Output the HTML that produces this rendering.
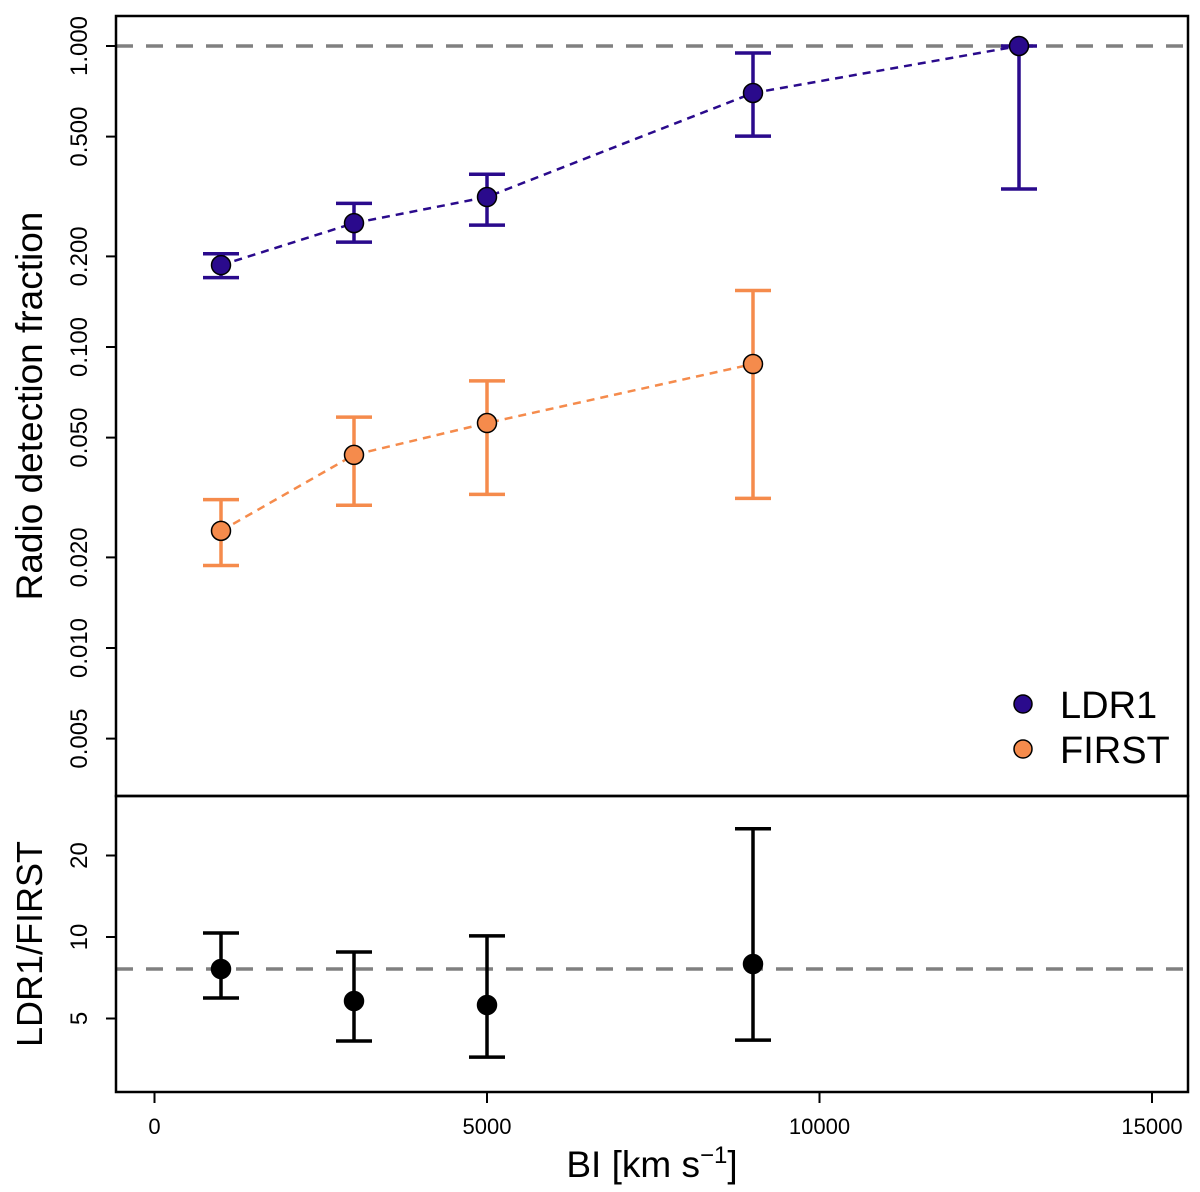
<!DOCTYPE html>
<html><head><meta charset="utf-8"><style>
html,body{margin:0;padding:0;background:#fff}
svg{display:block;font-family:"Liberation Sans",sans-serif}
</style></head><body>
<svg id="chart" width="1200" height="1192" xmlns="http://www.w3.org/2000/svg"></svg>
<script>
const categories=[1000,3000,5000,9000,13000];
const ldrVal=[0.187,0.258,0.315,0.698,1.0];
const ldrHi=[0.204,0.30,0.375,0.948,1.0];
const ldrLo=[0.17,0.223,0.254,0.502,0.335];
const firstCats=[1000,3000,5000,9000];
const firstVal=[0.0245,0.0438,0.0559,0.0878];
const firstHi=[0.0311,0.0585,0.0772,0.154];
const firstLo=[0.0188,0.0298,0.0324,0.0314];
const ratioVal=[7.62,5.8,5.61,7.95];
const ratioHi=[10.35,8.8,10.1,25.1];
const ratioLo=[5.95,4.13,3.6,4.16];
const ratioRef=7.62;
const xTicks=[0,5000,10000,15000];
const topTicks=[1,0.5,0.2,0.1,0.05,0.02,0.01,0.005];
const topTickLabels=["1.000","0.500","0.200","0.100","0.050","0.020","0.010","0.005"];
const botTicks=[20,10,5];
const botTickLabels=["20","10","5"];

const svg=document.getElementById('chart');
const NS='http://www.w3.org/2000/svg';
function mk(tag,attrs,name,parent){const e=document.createElementNS(NS,tag);for(const k in attrs)e.setAttribute(k,attrs[k]);


(parent||svg).appendChild(e);return e;}
const X=v=>154.5+v*(332.5/5000);
const YT=v=>46-Math.log10(v)*301;
const YB=v=>937-Math.log2(v/10)*81.5;
const L=116,R=1188,T=16,M=796,B=1092;

mk('line',{x1:L,x2:R,y1:YT(1),y2:YT(1),stroke:'#808080','stroke-width':3.5,'stroke-dasharray':'17 13'},'top-reference-line');
mk('line',{x1:L,x2:R,y1:YB(ratioRef),y2:YB(ratioRef),stroke:'#808080','stroke-width':3.5,'stroke-dasharray':'17 13'},'ratio-reference-line');

function series(cats,val,hi,lo,Y,col,fill,name,line){
  if(line){mk('polyline',{points:cats.map((c,i)=>X(c)+','+Y(val[i])).join(' '),fill:'none',stroke:col,'stroke-width':2.5,'stroke-dasharray':'8 6'},name+'-line');}
  cats.forEach((c,i)=>{const x=X(c);
    mk('line',{x1:x,x2:x,y1:Y(hi[i]),y2:Y(lo[i]),stroke:col,'stroke-width':3.5},name+'-errorbar');
    mk('line',{x1:x-18,x2:x+18,y1:Y(hi[i]),y2:Y(hi[i]),stroke:col,'stroke-width':3.5},name+'-errorcap-upper');
    mk('line',{x1:x-18,x2:x+18,y1:Y(lo[i]),y2:Y(lo[i]),stroke:col,'stroke-width':3.5},name+'-errorcap-lower');
    mk('circle',{cx:x,cy:Y(val[i]),r:9.5,fill:fill,stroke:'#000','stroke-width':1.5},name+'-point');
  });
}
series(categories,ldrVal,ldrHi,ldrLo,YT,'#2a0a8c','#2a0a8c','ldr1',true);
series(firstCats,firstVal,firstHi,firstLo,YT,'#f58b4c','#f58b4c','first',true);
series(firstCats,ratioVal,ratioHi,ratioLo,YB,'#000','#000','ratio',false);

mk('rect',{x:L,y:T,width:R-L,height:M-T,fill:'none',stroke:'#000','stroke-width':2.5},'top-panel-frame');
mk('rect',{x:L,y:M,width:R-L,height:B-M,fill:'none',stroke:'#000','stroke-width':2.5},'bottom-panel-frame');

topTicks.forEach((v,i)=>{const y=YT(v);
  mk('line',{x1:L-10,x2:L,y1:y,y2:y,stroke:'#000','stroke-width':2},'top-y-tick');
  const t=mk('text',{x:0,y:0,transform:`translate(87,${y}) rotate(-90)`,'text-anchor':'middle','font-size':24},'top-y-tick-label');t.textContent=topTickLabels[i];});
botTicks.forEach((v,i)=>{const y=YB(v);
  mk('line',{x1:L-10,x2:L,y1:y,y2:y,stroke:'#000','stroke-width':2},'bottom-y-tick');
  const t=mk('text',{x:0,y:0,transform:`translate(87,${y}) rotate(-90)`,'text-anchor':'middle','font-size':24},'bottom-y-tick-label');t.textContent=botTickLabels[i];});
xTicks.forEach(v=>{const x=X(v);
  mk('line',{x1:x,x2:x,y1:B,y2:B+11,stroke:'#000','stroke-width':2},'x-tick');
  const t=mk('text',{x:x,y:1134,'text-anchor':'middle','font-size':22},'x-tick-label');t.textContent=v;});

let t=mk('text',{transform:'translate(42,406) rotate(-90)','text-anchor':'middle','font-size':37},'top-y-axis-title');t.textContent='Radio detection fraction';
t=mk('text',{transform:'translate(42,944) rotate(-90)','text-anchor':'middle','font-size':36},'bottom-y-axis-title');t.textContent='LDR1/FIRST';
t=mk('text',{x:652,y:1177,'text-anchor':'middle','font-size':37},'x-axis-title');
t.innerHTML='BI [km s<tspan dy="-14" font-size="24">−1</tspan><tspan dy="14">]</tspan>';

mk('circle',{cx:1023,cy:704,r:9,fill:'#2a0a8c',stroke:'#000','stroke-width':1.5},'legend-ldr1-marker');
t=mk('text',{x:1060,y:718,'font-size':38},'legend-ldr1-label');t.textContent='LDR1';
mk('circle',{cx:1023,cy:749,r:9,fill:'#f58b4c',stroke:'#000','stroke-width':1.5},'legend-first-marker');
t=mk('text',{x:1060,y:763,'font-size':38},'legend-first-label');t.textContent='FIRST';
</script>
</body></html>
